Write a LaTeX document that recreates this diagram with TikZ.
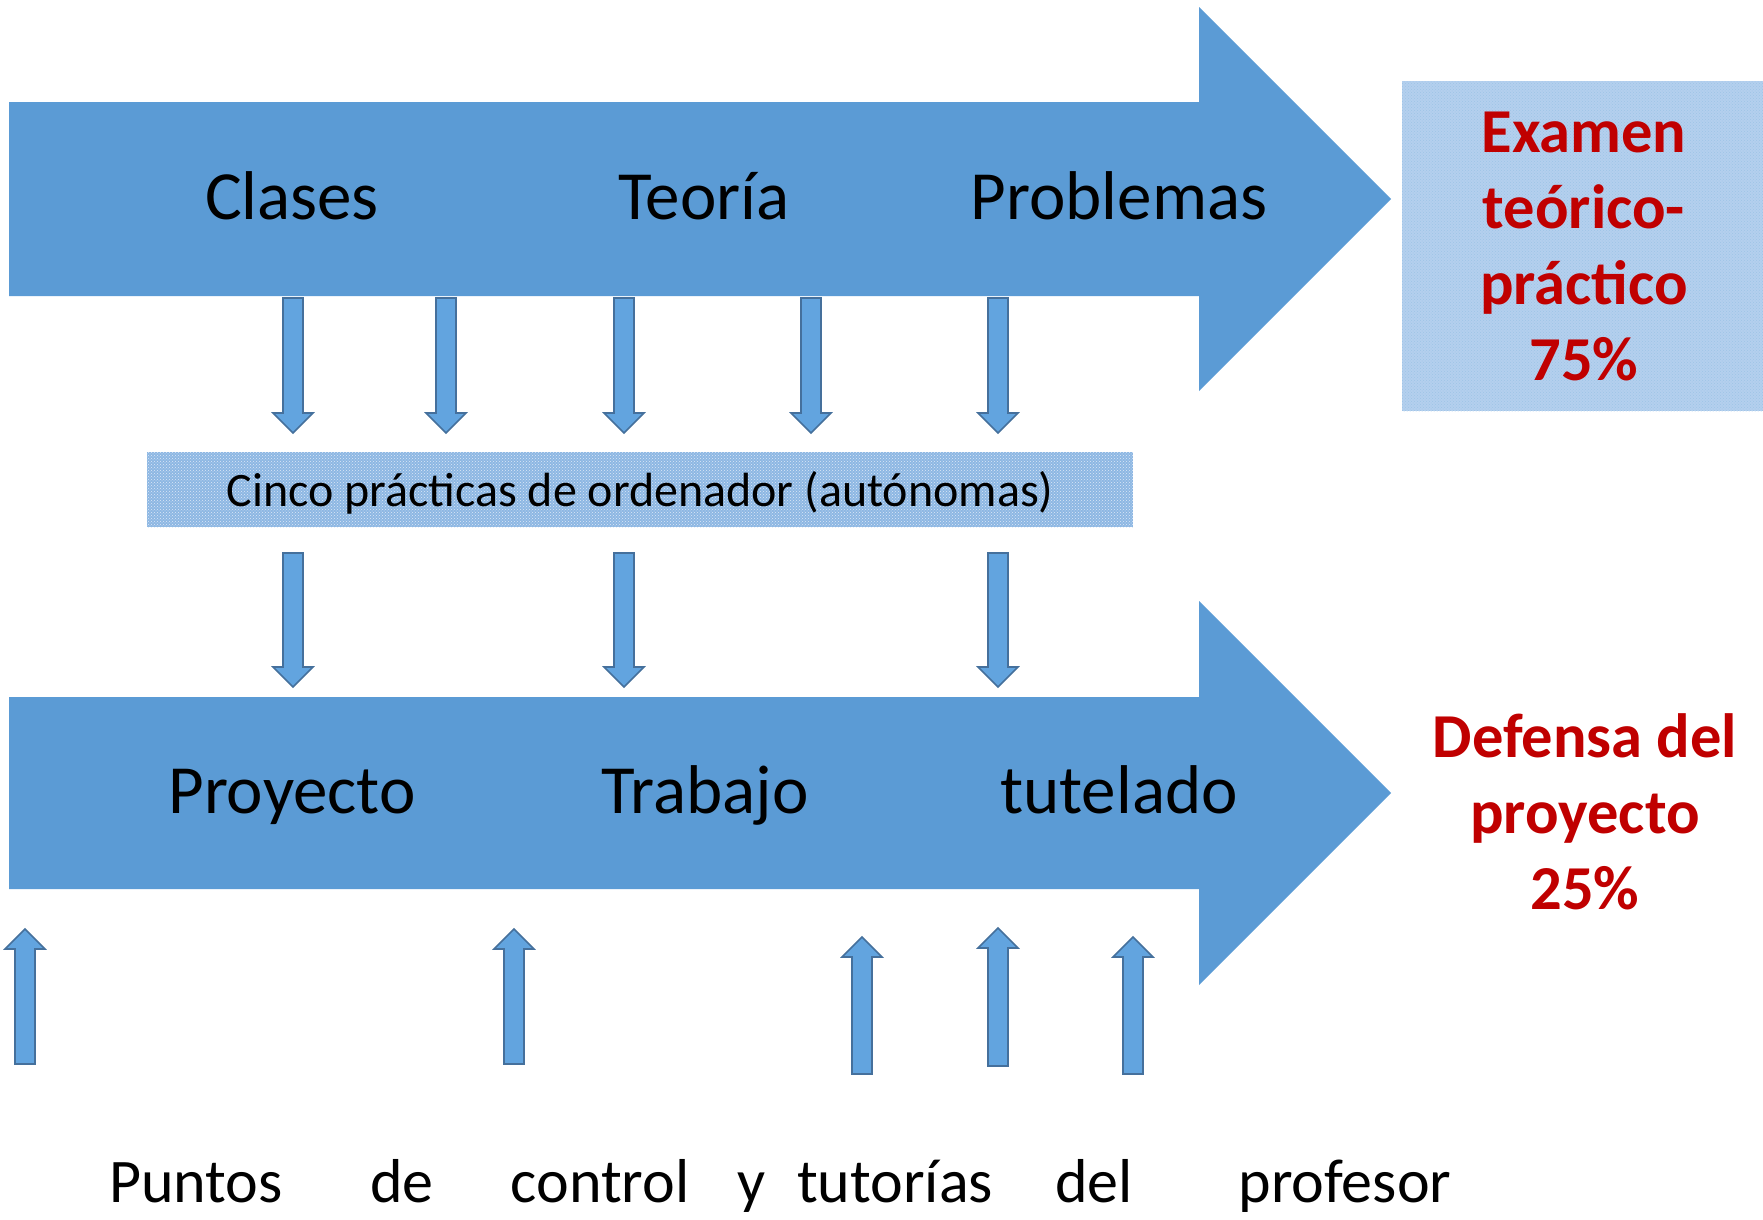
\documentclass[tikz,border=0pt]{standalone}
\usepackage{fontspec}
\setmainfont{Carlito}
\usetikzlibrary{patterns}
\definecolor{accblue}{HTML}{5B9BD5}
\definecolor{arrfill}{HTML}{62A4DF}
\definecolor{arredge}{HTML}{45709C}
\definecolor{darkred}{HTML}{C00000}
\definecolor{patA}{HTML}{B4D0EE}
\definecolor{patB}{HTML}{8DB7E3}
\tikzset{
  bigarr/.style={fill=accblue},
  smallarr/.style={fill=arrfill, draw=arredge, line width=1.6pt, line join=miter},
  biglbl/.style={font=\fontsize{69}{83}\selectfont, inner sep=0pt, anchor=base},
  redlbl/.style={font=\bfseries\fontsize{62.5}{76}\selectfont, text=darkred, inner sep=0pt, anchor=base},
  botlbl/.style={font=\fontsize{62}{74}\selectfont, inner sep=0pt, anchor=base},
}
\newcommand\blkdown[3]{%
  \filldraw[smallarr] (#1-10,#2) -- (#1+10,#2) -- (#1+10,#3-20) -- (#1+20,#3-20) -- (#1,#3) -- (#1-20,#3-20) -- (#1-10,#3-20) -- cycle;}
\newcommand\blkup[3]{%
  \filldraw[smallarr] (#1-10,#3) -- (#1+10,#3) -- (#1+10,#2+20) -- (#1+20,#2+20) -- (#1,#2) -- (#1-20,#2+20) -- (#1-10,#2+20) -- cycle;}
\begin{document}
\begin{tikzpicture}[x=1pt,y=-1pt]
\useasboundingbox (0,0) rectangle (1763,1219);
% big arrows
\fill[bigarr] (9,102) -- (1199,102) -- (1199,7) -- (1391,199) -- (1199,391) -- (1199,296) -- (9,296) -- cycle;
\fill[bigarr] (9,697) -- (1199,697) -- (1199,601) -- (1391,793) -- (1199,985) -- (1199,889) -- (9,889) -- cycle;
% boxes
\fill[patA] (1402,81) rectangle (1763,411);
\fill[pattern=crosshatch dots, pattern color=accblue!60] (1402,81) rectangle (1763,411);
\fill[patB] (147,452) rectangle (1133,527);
\fill[pattern=crosshatch dots, pattern color=white!70!patB] (147,452) rectangle (1133,527);
% small arrows
\foreach \x in {293,446,624,811,998} {\blkdown{\x}{298}{433}}
\foreach \x in {293,624,998} {\blkdown{\x}{553}{687}}
\blkup{25}{929}{1064}
\blkup{514}{929}{1064}
\blkup{862}{937}{1074}
\blkup{998}{928}{1066}
\blkup{1133}{937}{1074}
% labels
\node[biglbl] (clases) at (292,219) {Clases};
\node[biglbl] (teoria) at (704,219) {Teoría};
\node[biglbl] (problemas) at (1119,219) {Problemas};
\node[biglbl] (proyecto) at (292,813) {Proyecto};
\node[biglbl] (trabajo) at (705,813) {Trabajo};
\node[biglbl] (tutelado) at (1119,813) {tutelado};
\node[font=\fontsize{48}{58}\selectfont, inner sep=0pt, anchor=base] (cinco) at (640,506) {Cinco prácticas de ordenador (autónomas)};
\node[redlbl] (ex1) at (1584,152) {Examen};
\node[redlbl] (ex2) at (1584,228) {teórico-};
\node[redlbl] (ex3) at (1584,304) {práctico};
\node[redlbl] (ex4) at (1584,380) {75\%};
\node[redlbl] (df1) at (1585,757) {Defensa del};
\node[redlbl] (df2) at (1585,833) {proyecto};
\node[redlbl] (df3) at (1585,909) {25\%};
\node[botlbl] (w1) at (196,1202) {Puntos};
\node[botlbl] (w2) at (402,1202) {de};
\node[botlbl] (w3) at (600,1202) {control};
\node[botlbl] (w4) at (752,1202) {y};
\node[botlbl] (w5) at (895,1202) {tutorías};
\node[botlbl] (w6) at (1094,1202) {del};
\node[botlbl] (w7) at (1345,1202) {profesor};
\end{tikzpicture}
\end{document}
